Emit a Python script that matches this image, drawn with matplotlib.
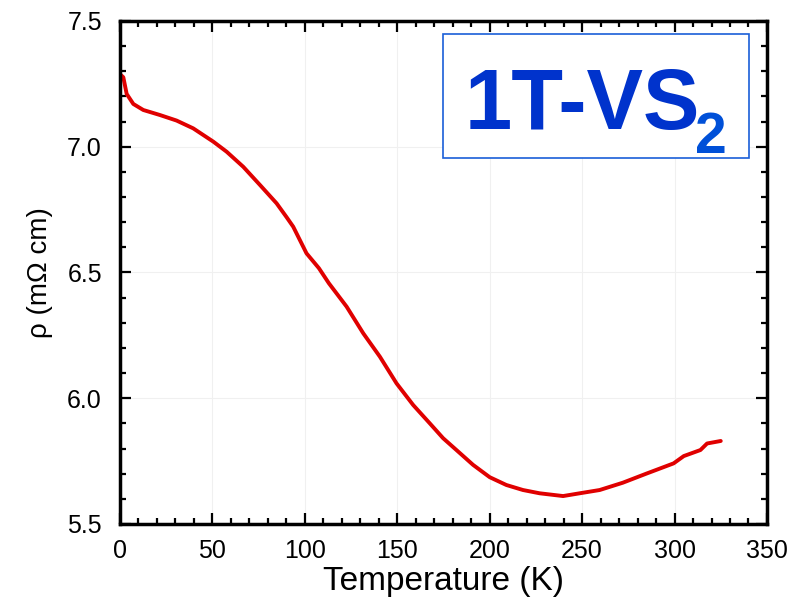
import matplotlib
matplotlib.use("Agg")
import matplotlib.pyplot as plt
from matplotlib.patches import Rectangle
from matplotlib.ticker import MultipleLocator, FormatStrFormatter

plt.rcParams['font.family'] = ['Liberation Sans', 'DejaVu Sans']

temperature = [0.5, 1.8, 3.6, 7.2, 12.6, 21.6, 30.6, 39.6, 50.5, 57.7, 66.7, 75.7, 84.7,
               90.1, 93.7, 100.9, 107.6, 113.0, 122.6, 131.6, 140.6, 149.6, 158.6,
               167.6, 174.8, 182.0, 191.0, 200.0, 209.0, 218.0, 227.0, 239.7, 248.7,
               259.5, 272.0, 284.7, 299.5, 305.0, 314.0, 317.6, 325.0]
resistivity = [7.285, 7.276, 7.21, 7.17, 7.146, 7.126, 7.104, 7.073, 7.02, 6.98, 6.92, 6.848, 6.775,
               6.72, 6.682, 6.576, 6.517, 6.457, 6.364, 6.258, 6.165, 6.059, 5.973,
               5.90, 5.841, 5.794, 5.735, 5.686, 5.655, 5.635, 5.622, 5.611, 5.622,
               5.635, 5.664, 5.70, 5.741, 5.77, 5.794, 5.82, 5.83]

x_label = "Temperature (K)"
y_label = "ρ (mΩ cm)"
title_main = "1T-VS"
title_sub = "2"

fig = plt.figure(figsize=(8.07, 6.04), dpi=100)
ax = fig.add_axes([0.1487, 0.1325, 0.8017, 0.8328])

ax.plot(temperature, resistivity, color='#e00000', lw=2.8, solid_capstyle='round')

ax.set_xlim(0, 350)
ax.set_ylim(5.5, 7.5)
ax.xaxis.set_major_locator(MultipleLocator(50))
ax.xaxis.set_minor_locator(MultipleLocator(10))
ax.yaxis.set_major_locator(MultipleLocator(0.5))
ax.yaxis.set_minor_locator(MultipleLocator(0.1))
ax.yaxis.set_major_formatter(FormatStrFormatter('%.1f'))

ax.grid(True, which='major', color='#f0f0f0', lw=0.8)
ax.set_axisbelow(True)

for s in ax.spines.values():
    s.set_linewidth(2.5)
ax.tick_params(which='both', direction='in', top=True, right=True, width=1.6, labelsize=18,
               colors='black')
ax.tick_params(which='major', length=8)
ax.tick_params(which='minor', length=4.3)
ax.tick_params(axis='x', pad=11)
ax.tick_params(axis='y', pad=13)

ax.set_xlabel(x_label, fontsize=24, labelpad=2)
ax.set_ylabel(y_label, fontsize=20, labelpad=10)

ax.add_patch(Rectangle((0.4992, 0.7276), 0.473, 0.2464, transform=ax.transAxes,
                       fill=True, facecolor='white', edgecolor='#1a5fd8', lw=1.2, zorder=5))
ax.text(0.532, 0.785, title_main, transform=ax.transAxes, fontsize=61, fontweight='bold',
        color='#0033cc', ha='left', va='baseline', zorder=6)
ax.text(0.889, 0.7376, title_sub, transform=ax.transAxes, fontsize=41, fontweight='bold',
        color='#0050d8', ha='left', va='baseline', zorder=6)

fig.savefig("out.png", dpi=100)
